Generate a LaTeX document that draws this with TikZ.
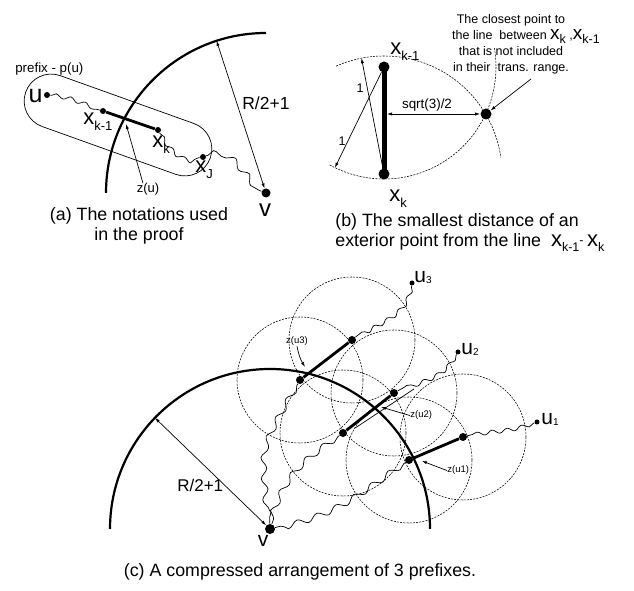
\documentclass[tikz,border=0pt]{standalone}
\usepackage{fontspec}
\setmainfont{Liberation Sans}
\usepackage{tikz}
\usetikzlibrary{positioning,arrows.meta,calc,shapes.misc,decorations.pathmorphing,backgrounds}

\newcommand{\lowsub}[3]{\raisebox{#1}{\fontsize{#2}{#2}\selectfont #3}}

\begin{document}
\begin{tikzpicture}[
    x=1pt, y=1pt, line width=0.7pt,
    dot/.style={circle, fill, inner sep=0pt, minimum size=#1},
    dot/.default=6pt,
    wave/.style={decorate, decoration={snake, amplitude=2pt, segment length=15pt, pre length=1pt, post length=1pt}},
    longwave/.style={decorate, decoration={snake, amplitude=3pt, segment length=21pt, pre length=2pt, post length=2pt}},
    trange/.style={dash pattern=on 2pt off 1.2pt, line width=0.55pt},
    hop/.style={line width=#1},
    hop/.default=2.8pt,
    border/.style={line width=2.2pt},
    dist/.style={{Latex[length=5pt,width=3.2pt]}-{Latex[length=5pt,width=3.2pt]}},
    pointer/.style={-{Latex[length=5pt,width=3.2pt]}},
    lab/.style={inner sep=0pt, font=\fontsize{#1}{#1}\selectfont},
    lab/.default=22,
    caption/.style={inner sep=0pt, font=\fontsize{17.8}{20}\selectfont},
  ]
  \useasboundingbox (0,0) rectangle (634,591);

  % (a) notations used in the proof
  \node[dot=9pt] (va)  at (266,398) {};
  \node[dot]     (u)   at (47,496)  {};
  \node[dot]     (xk1) at (103,480) {};
  \node[dot]     (xk)  at (158,461) {};
  \node[dot]     (xj)  at (203,434) {};
  \node[draw, rounded rectangle, minimum width=196pt, minimum height=54pt,
        inner sep=0pt, rotate=-19.7] (prefix) at (118,466) {};

  \node[lab=25, anchor=base east]   (ulab)   at (43,488)  {u};
  \node[lab, anchor=base west]      (xk1lab) at (83,466)  {x\lowsub{-6pt}{13}{k-1}};
  \node[lab, anchor=base west]      (xklab)  at (152,443) {x\lowsub{-6pt}{13}{k}};
  \node[lab, anchor=base west]      (xjlab)  at (195,418) {x\lowsub{-6pt}{13}{J}};
  \node[lab=24, anchor=base]        (valab)  at (265,374) {v};
  \node[lab=13.3, anchor=base west] (plab)   at (15,518)  {prefix - p(u)};
  \node[lab=13, anchor=base]        (zlab)   at (148,398) {z(u)};
  \node[lab=17.5, anchor=base west] (rlab)   at (242,481) {R/2+1};

  % boundary and distance to v
  \draw[border] (va) ++(180:160) arc[start angle=180, end angle=90, radius=160];
  \coordinate (ra) at ($(va)+(108:160)$);
  \draw[dist] (ra) -- (va);

  % the prefix path
  \draw[wave] (u) to[out=-5, in=165] (xk1);
  \draw[hop] (xk1) -- (xk);
  \draw[wave] (xk) to[out=-60, in=190] (xj);
  \draw[longwave] (xj) to[out=20, in=160] (va);
  \coordinate (za) at (126,467);
  \draw[pointer] ([xshift=-5pt]zlab.north) -- (za);

  \node[caption, align=center, anchor=north] (capa) at (139,384)
    {(a) The notations used\\in the proof};

  % (b) smallest distance of an exterior point
  \node[dot=11pt] (xk1b) at (384,524) {};
  \node[dot=11pt] (xkb)  at (384,417) {};
  \node[dot=11pt] (far)  at (486,477) {};
  \draw[hop=5pt] (xk1b.center) -- (xkb.center);
  \draw[trange] (xkb) ++(114:118) arc[start angle=114, end angle=8, radius=118];
  \draw[trange] (xk1b) ++(241:112) arc[start angle=241, end angle=370, radius=112];

  \coordinate (lo) at ($(xk1b)+(244:112)$);
  \coordinate (hi) at ($(xkb)+(101:118)$);
  \draw[pointer] (xk1b) -- (lo);
  \draw[pointer] (xkb) -- (hi);
  \node[lab=12.5] (onehi) at (360,503) {1};
  \node[lab=12.5] (onelo) at (342,450) {1};
  \coordinate (foot) at ($(far -| xk1b)+(3,0)$);
  \draw[dist] (foot) -- (far);
  \node[lab=13.4, anchor=base] (sqlab) at (427,482) {sqrt(3)/2};

  \node[lab, anchor=base west] (xk1blab) at (390,536) {x\lowsub{-6pt}{13}{k-1}};
  \node[lab, anchor=base west] (xkblab)  at (389,389) {x\lowsub{-6pt}{13}{k}};

  \node[inner sep=0pt, align=center, anchor=north, font=\fontsize{12.5}{16}\selectfont] (note) at (511,577)
    {The closest point to\\
     \hspace*{30pt}the line\ \ between {\fontsize{19}{16}\selectfont x\lowsub{-4pt}{12.5}{k}} ,{\fontsize{19}{16}\selectfont x\lowsub{-4pt}{12.5}{k-1}}\\
     that is not included\\
     in their\ \ trans. range.};
  \coordinate (notetip) at (531,512);
  \draw[pointer] (notetip) -- (far);

  \node[caption, align=left, anchor=north west] (capb) at (335,378)
    {(b) The smallest distance of an\\
     exterior point from the line\ \ {\fontsize{22}{20}\selectfont x\lowsub{-5pt}{12.5}{k-1}\raisebox{2pt}{\fontsize{12.5}{12}\selectfont -}\,x\lowsub{-5pt}{12.5}{k}}};

  % (c) three prefixes
  \node[dot=10pt] (vc) at (270,62)  {};
  \node[dot=5pt]  (u3) at (412,308) {};
  \node[dot=5pt]  (u2) at (458,239) {};
  \node[dot=5pt]  (u1) at (537,169) {};
  \node[dot=8pt]  (a3) at (352,251) {};
  \node[dot=8pt]  (b3) at (300,211) {};
  \node[dot=8pt]  (a2) at (394,198) {};
  \node[dot=8pt]  (b2) at (343,158) {};
  \node[dot=8pt]  (a1) at (463,154) {};
  \node[dot=8pt]  (b1) at (409,131) {};

  % transmission ranges and boundary
  \begin{scope}[on background layer]
    \foreach \p in {a3,b3,a2,b2,a1,b1}
      \draw[trange] (\p) circle[radius=63];
    \draw[border] (vc) ++(180:160) arc[start angle=180, end angle=0, radius=160];
  \end{scope}
  \coordinate (rc) at ($(vc)+(136:160)$);
  \draw[dist] (rc) -- (vc);

  % prefixes
  \draw[wave] (u3) to[out=-100, in=40] (a3);
  \draw[wave] (u2) to[out=-120, in=30] (a2);
  \draw[wave] (u1) to[out=-160, in=15] (a1);
  \draw[hop] (a3) -- (b3);
  \draw[hop] (a2) -- (b2);
  \draw[hop] (a1) -- (b1);
  \draw[longwave] (b3) to[out=-120, in=92, looseness=1.5] (vc);
  \draw[longwave] (b2) to[out=-145, in=70, looseness=1.2] (vc);
  \draw[longwave] (b1) to[out=-145, in=15, looseness=1.2] (vc);
  \draw ($(b2)!0.2!(a2)+(2,-3)$) -- ($(a2)+(20,4)$);

  \node[lab=21, anchor=base west]   (u3lab) at (414,308) {u\lowsub{-1pt}{10}{3}};
  \node[lab=21, anchor=base west]   (u2lab) at (461,236) {u\lowsub{-1pt}{10}{2}};
  \node[lab=21, anchor=base west]   (u1lab) at (541,166) {u\lowsub{-1pt}{10}{1}};
  \node[lab=21, anchor=base]        (vclab) at (263,44)  {v};
  \node[lab=17, anchor=base west]   (rclab) at (177,99)  {R/2+1};
  \node[lab=9.5, anchor=base]       (z3lab) at (297,247) {z(u3)};
  \node[lab=9.5, anchor=base west]  (z2lab) at (410,173) {z(u2)};
  \node[lab=9.5, anchor=base west]  (z1lab) at (447,118) {z(u1)};
  \coordinate (z3) at (305,224);
  \coordinate (z2) at (381,184);
  \coordinate (z1) at (422,130);
  \draw[pointer] (z3lab.south) to[bend right=10] (z3);
  \draw[pointer] (z2lab.west) -- (z2);
  \draw[pointer] (z1lab.west) -- (z1);

  \node[caption, anchor=base] (capc) at (300,14) {(c) A compressed arrangement of 3 prefixes.};
\end{tikzpicture}
\end{document}
